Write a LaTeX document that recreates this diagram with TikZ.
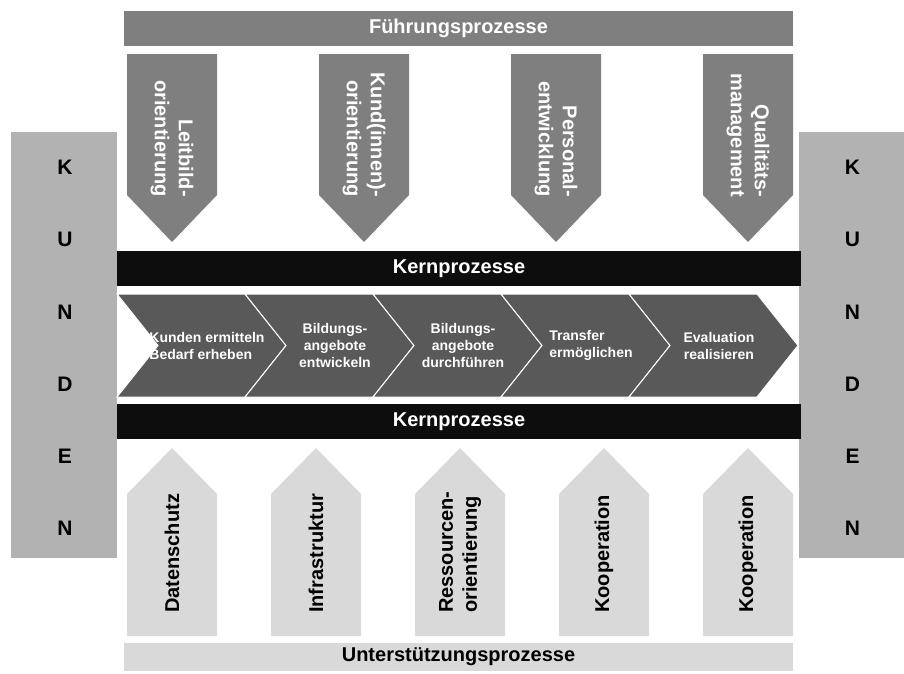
\documentclass[tikz,border=0pt]{standalone}
\usepackage{fontspec}
\setmainfont{Liberation Sans}
\usetikzlibrary{positioning}
\definecolor{fpGray}{HTML}{7F7F7F}
\definecolor{kdGray}{HTML}{B2B2B2}
\definecolor{kpBlack}{HTML}{0D0D0D}
\definecolor{chGray}{HTML}{595959}
\definecolor{upGray}{HTML}{D9D9D9}

\begin{document}
\begin{tikzpicture}[
  x=1pt,y=-1pt,
  bar/.style={inner sep=0pt,minimum height=35pt,font=\fontsize{20}{24}\selectfont\bfseries},
  fbar/.style={bar,fill=fpGray,text=white,minimum width=669pt},
  kbar/.style={bar,fill=kpBlack,text=white,minimum width=684pt},
  ubar/.style={bar,fill=upGray,text=black,minimum width=669pt,minimum height=28pt},
  kunden/.style={fill=kdGray,minimum width=106pt,minimum height=426pt,inner sep=0pt},
  kletters/.style={align=center,inner sep=0pt,font=\fontsize{21}{72.2}\selectfont\bfseries},
  farrow/.style={fill=fpGray},
  uarrow/.style={fill=upGray},
  chev/.style={fill=chGray,draw=white,line width=1pt},
  ftxt/.style={rotate=-90,anchor=east,align=right,text=white,inner sep=0pt,
               font=\fontsize{20}{24}\selectfont\bfseries},
  utxt/.style={rotate=90,anchor=west,align=left,text=black,inner sep=0pt,
               font=\fontsize{20}{24}\selectfont\bfseries},
  ctxt/.style={text=white,inner sep=0pt,font=\fontsize{14}{17}\selectfont\bfseries}
]
\useasboundingbox (0,0) rectangle (904,673);

% customers left and right
\node[kunden] (kl) at (64,345)    {};
\node[kunden] (kr) at (851.5,345) {};
\node[kletters] (kltxt) at (65,348)    {K\\U\\N\\D\\E\\N};
\node[kletters] (krtxt) at (852.5,348) {K\\U\\N\\D\\E\\N};

% management processes
\node[fbar] (fp) at (458.5,28.5) {Führungsprozesse};
\foreach \i/\txt in {0/{Leitbild-\\orientierung},1/{Kund(innen)-\\orientierung},
                     2/{Personal-\\entwicklung},3/{Qualitäts-\\management}}{
  \path[farrow] (127+192*\i,54) -- ++(90,0) -- ++(0,141) -- ++(-45,47) -- ++(-45,-47) -- cycle;
  \node[ftxt] (f\i) at (172+192*\i,197) {\txt};
}

% core processes
\node[kbar] (kp1) at (459,268.5) {Kernprozesse};
\foreach \i/\al/\txt in {0/left/{Kunden ermitteln\\Bedarf erheben},
                         1/center/{Bildungs-\\angebote\\entwickeln},
                         2/center/{Bildungs-\\angebote\\durchführen},
                         3/left/{Transfer\\ermöglichen},
                         4/center/{Evaluation\\realisieren}}{
  \path[chev] (117+128*\i,294) -- ++(128,0) -- ++(41,51.5) -- ++(-41,51.5)
              -- ++(-128,0) -- ++(41,-51.5) -- cycle;
  \node[ctxt,align=\al] (c\i) at (117+128*\i+90,345.5) {\txt};
}
\node[kbar] (kp2) at (459,421.5) {Kernprozesse};

% support processes
\foreach \i/\txt in {0/Datenschutz,1/Infrastruktur,2/{Ressourcen-\\orientierung},
                     3/Kooperation,4/Kooperation}{
  \path[uarrow] (127+144*\i,636) -- ++(90,0) -- ++(0,-142) -- ++(-45,-46) -- ++(-45,46) -- cycle;
  \node[utxt] (u\i) at (172+144*\i,613) {\txt};
}
\node[ubar] (up) at (458.5,657) {Unterstützungsprozesse};
\end{tikzpicture}
\end{document}
